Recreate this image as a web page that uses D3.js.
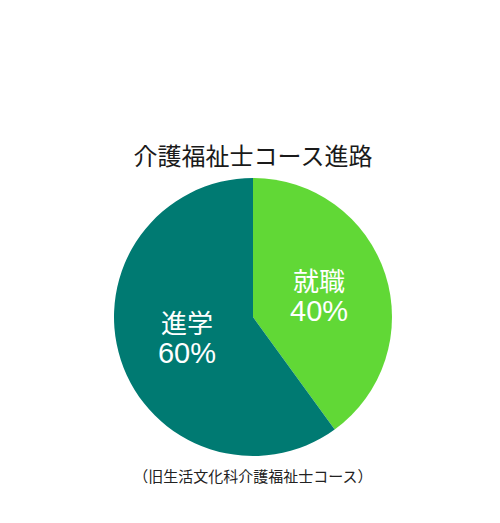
<!DOCTYPE html>
<html>
<head>
<meta charset="utf-8">
<script src="https://cdn.jsdelivr.net/npm/d3@7"></script>
<style>
  body { margin: 0; background: #fff; }
  text { font-family: "Noto Sans CJK JP", "Noto Sans", sans-serif; }
</style>
</head>
<body>
<svg id="chart" width="500" height="523"></svg>
<script>
// data
const categories = ["就職", "進学"];
const values = [40, 60];
const colors = ["#61d836", "#007a72"];

const title = "介護福祉士コース進路";
const subtitle = "（旧生活文化科介護福祉士コース）";

const svg = d3.select("#chart");
const cx = 253, cy = 317, radius = 139;

// title
svg.append("text")
    .attr("x", cx)
    .attr("y", 165)
    .attr("text-anchor", "middle")
    .attr("font-size", 24)
    .attr("fill", "#1a1a1a")
    .text(title);

const pie = d3.pie().sort(null).value(d => d)(values);
const arc = d3.arc().innerRadius(0).outerRadius(radius);
const labelArc = d3.arc().innerRadius(radius / 2).outerRadius(radius / 2);

const g = svg.append("g").attr("transform", `translate(${cx},${cy})`);

g.selectAll("path")
    .data(pie)
    .enter()
    .append("path")
    .attr("d", arc)
    .attr("fill", (d, i) => colors[i]);

// category labels
g.selectAll(".cat")
    .data(pie)
    .enter()
    .append("text")
    .attr("class", "cat")
    .attr("text-anchor", "middle")
    .attr("fill", "#fff")
    .attr("font-size", 26)
    .attr("x", d => labelArc.centroid(d)[0])
    .attr("y", d => labelArc.centroid(d)[1] - 5)
    .text((d, i) => categories[i]);

// percent labels
g.selectAll(".pct")
    .data(pie)
    .enter()
    .append("text")
    .attr("class", "pct")
    .attr("text-anchor", "middle")
    .attr("fill", "#fff")
    .attr("font-size", 29)
    .style("font-family", "'Liberation Sans', Arial, sans-serif")
    .attr("x", d => labelArc.centroid(d)[0])
    .attr("y", d => labelArc.centroid(d)[1] + 25)
    .text(d => d.data + "%");

// subtitle
svg.append("text")
    .attr("x", cx)
    .attr("y", 482)
    .attr("text-anchor", "middle")
    .attr("font-size", 15)
    .attr("fill", "#222")
    .text(subtitle);
</script>
</body>
</html>
